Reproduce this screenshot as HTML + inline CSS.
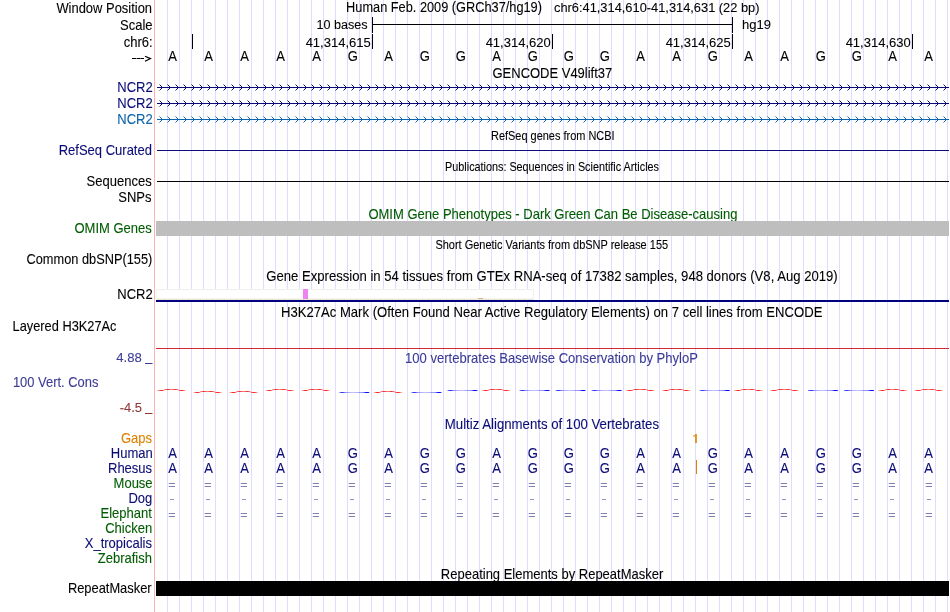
<!DOCTYPE html>
<html><head><meta charset="utf-8"><style>
html,body{margin:0;padding:0;background:#fff;width:950px;height:612px;overflow:hidden}
svg{display:block;will-change:transform}
text{font-family:"Liberation Sans",sans-serif;stroke-width:0.1}
</style></head><body>
<svg width="950" height="612" viewBox="0 0 950 612">
<rect x="167" y="0" width="1" height="612" fill="rgb(221,221,255)"/>
<rect x="179" y="0" width="1" height="612" fill="rgb(221,221,255)"/>
<rect x="191" y="0" width="1" height="612" fill="rgb(221,221,255)"/>
<rect x="203" y="0" width="1" height="612" fill="rgb(221,221,255)"/>
<rect x="215" y="0" width="1" height="612" fill="rgb(221,221,255)"/>
<rect x="227" y="0" width="1" height="612" fill="rgb(221,221,255)"/>
<rect x="239" y="0" width="1" height="612" fill="rgb(221,221,255)"/>
<rect x="251" y="0" width="1" height="612" fill="rgb(221,221,255)"/>
<rect x="263" y="0" width="1" height="612" fill="rgb(221,221,255)"/>
<rect x="275" y="0" width="1" height="612" fill="rgb(221,221,255)"/>
<rect x="287" y="0" width="1" height="612" fill="rgb(221,221,255)"/>
<rect x="299" y="0" width="1" height="612" fill="rgb(221,221,255)"/>
<rect x="311" y="0" width="1" height="612" fill="rgb(221,221,255)"/>
<rect x="323" y="0" width="1" height="612" fill="rgb(221,221,255)"/>
<rect x="335" y="0" width="1" height="612" fill="rgb(221,221,255)"/>
<rect x="347" y="0" width="1" height="612" fill="rgb(221,221,255)"/>
<rect x="359" y="0" width="1" height="612" fill="rgb(221,221,255)"/>
<rect x="371" y="0" width="1" height="612" fill="rgb(221,221,255)"/>
<rect x="383" y="0" width="1" height="612" fill="rgb(221,221,255)"/>
<rect x="395" y="0" width="1" height="612" fill="rgb(221,221,255)"/>
<rect x="407" y="0" width="1" height="612" fill="rgb(221,221,255)"/>
<rect x="419" y="0" width="1" height="612" fill="rgb(221,221,255)"/>
<rect x="431" y="0" width="1" height="612" fill="rgb(221,221,255)"/>
<rect x="443" y="0" width="1" height="612" fill="rgb(221,221,255)"/>
<rect x="455" y="0" width="1" height="612" fill="rgb(221,221,255)"/>
<rect x="467" y="0" width="1" height="612" fill="rgb(221,221,255)"/>
<rect x="479" y="0" width="1" height="612" fill="rgb(221,221,255)"/>
<rect x="491" y="0" width="1" height="612" fill="rgb(221,221,255)"/>
<rect x="503" y="0" width="1" height="612" fill="rgb(221,221,255)"/>
<rect x="515" y="0" width="1" height="612" fill="rgb(221,221,255)"/>
<rect x="527" y="0" width="1" height="612" fill="rgb(221,221,255)"/>
<rect x="539" y="0" width="1" height="612" fill="rgb(221,221,255)"/>
<rect x="551" y="0" width="1" height="612" fill="rgb(221,221,255)"/>
<rect x="563" y="0" width="1" height="612" fill="rgb(221,221,255)"/>
<rect x="575" y="0" width="1" height="612" fill="rgb(221,221,255)"/>
<rect x="587" y="0" width="1" height="612" fill="rgb(221,221,255)"/>
<rect x="599" y="0" width="1" height="612" fill="rgb(221,221,255)"/>
<rect x="611" y="0" width="1" height="612" fill="rgb(221,221,255)"/>
<rect x="623" y="0" width="1" height="612" fill="rgb(221,221,255)"/>
<rect x="635" y="0" width="1" height="612" fill="rgb(221,221,255)"/>
<rect x="647" y="0" width="1" height="612" fill="rgb(221,221,255)"/>
<rect x="659" y="0" width="1" height="612" fill="rgb(221,221,255)"/>
<rect x="671" y="0" width="1" height="612" fill="rgb(221,221,255)"/>
<rect x="683" y="0" width="1" height="612" fill="rgb(221,221,255)"/>
<rect x="695" y="0" width="1" height="612" fill="rgb(221,221,255)"/>
<rect x="707" y="0" width="1" height="612" fill="rgb(221,221,255)"/>
<rect x="719" y="0" width="1" height="612" fill="rgb(221,221,255)"/>
<rect x="731" y="0" width="1" height="612" fill="rgb(221,221,255)"/>
<rect x="743" y="0" width="1" height="612" fill="rgb(221,221,255)"/>
<rect x="755" y="0" width="1" height="612" fill="rgb(221,221,255)"/>
<rect x="767" y="0" width="1" height="612" fill="rgb(221,221,255)"/>
<rect x="779" y="0" width="1" height="612" fill="rgb(221,221,255)"/>
<rect x="791" y="0" width="1" height="612" fill="rgb(221,221,255)"/>
<rect x="803" y="0" width="1" height="612" fill="rgb(221,221,255)"/>
<rect x="815" y="0" width="1" height="612" fill="rgb(221,221,255)"/>
<rect x="827" y="0" width="1" height="612" fill="rgb(221,221,255)"/>
<rect x="839" y="0" width="1" height="612" fill="rgb(221,221,255)"/>
<rect x="851" y="0" width="1" height="612" fill="rgb(221,221,255)"/>
<rect x="863" y="0" width="1" height="612" fill="rgb(221,221,255)"/>
<rect x="875" y="0" width="1" height="612" fill="rgb(221,221,255)"/>
<rect x="887" y="0" width="1" height="612" fill="rgb(221,221,255)"/>
<rect x="899" y="0" width="1" height="612" fill="rgb(221,221,255)"/>
<rect x="911" y="0" width="1" height="612" fill="rgb(221,221,255)"/>
<rect x="923" y="0" width="1" height="612" fill="rgb(221,221,255)"/>
<rect x="935" y="0" width="1" height="612" fill="rgb(221,221,255)"/>
<rect x="947" y="0" width="1" height="612" fill="rgb(221,221,255)"/>
<rect x="154" y="0" width="1" height="612" fill="rgb(255,178,178)"/>
<text transform="translate(56.40,13) scale(0.9252,1)" fill="#000" stroke="#000" font-size="14">Window Position</text>
<text transform="translate(120.08,30) scale(0.9300,1)" fill="#000" stroke="#000" font-size="14">Scale</text>
<text transform="translate(123.80,47) scale(0.9300,1)" fill="#000" stroke="#000" font-size="14">chr6:</text>
<rect x="132" y="58" width="4" height="1" fill="#000"/>
<rect x="136.5" y="58" width="4" height="1" fill="#000"/>
<rect x="140.5" y="58" width="3.5" height="1" fill="#000"/>
<path d="M145,56.2L150.5,58.6L145,61.3" stroke="#000" stroke-width="1.15" fill="none"/>
<text transform="translate(117.29,92) scale(0.9300,1)" fill="rgb(12,12,120)" stroke="rgb(12,12,120)" font-size="14">NCR2</text>
<text transform="translate(117.29,108) scale(0.9300,1)" fill="rgb(12,12,120)" stroke="rgb(12,12,120)" font-size="14">NCR2</text>
<text transform="translate(117.29,124) scale(0.9300,1)" fill="rgb(12,100,170)" stroke="rgb(12,100,170)" font-size="14">NCR2</text>
<text transform="translate(58.70,155) scale(0.9300,1)" fill="rgb(12,12,120)" stroke="rgb(12,12,120)" font-size="14">RefSeq Curated</text>
<text transform="translate(86.60,186) scale(0.9300,1)" fill="#000" stroke="#000" font-size="14">Sequences</text>
<text transform="translate(118.22,202) scale(0.9300,1)" fill="#000" stroke="#000" font-size="14">SNPs</text>
<text transform="translate(74.51,233) scale(0.9300,1)" fill="rgb(0,92,0)" stroke="rgb(0,92,0)" font-size="14">OMIM Genes</text>
<text transform="translate(26.50,264) scale(0.9139,1)" fill="#000" stroke="#000" font-size="14">Common dbSNP(155)</text>
<text transform="translate(117.29,299) scale(0.9300,1)" fill="#000" stroke="#000" font-size="14">NCR2</text>
<text transform="translate(12.58,331) scale(0.9150,1)" fill="#000" stroke="#000" font-size="14">Layered H3K27Ac</text>
<text transform="translate(116.30,362) scale(0.9385,0.92)" fill="rgb(60,60,150)" stroke="rgb(60,60,150)" font-size="14">4.88</text>
<rect x="145" y="363" width="7.5" height="1" fill="rgb(60,60,150)"/>
<text transform="translate(12.88,387) scale(0.9250,1)" fill="rgb(60,60,150)" stroke="rgb(60,60,150)" font-size="14">100 Vert. Cons</text>
<text transform="translate(119.70,412) scale(0.9217,0.92)" fill="rgb(145,55,55)" stroke="rgb(145,55,55)" font-size="14">-4.5</text>
<rect x="145" y="413" width="7.5" height="1" fill="rgb(145,55,55)"/>
<text transform="translate(121.01,443) scale(0.9300,1)" fill="rgb(225,128,0)" stroke="rgb(225,128,0)" font-size="14">Gaps</text>
<text transform="translate(110.78,458) scale(0.9300,1)" fill="rgb(12,12,120)" stroke="rgb(12,12,120)" font-size="14">Human</text>
<text transform="translate(107.99,473) scale(0.9300,1)" fill="rgb(12,12,120)" stroke="rgb(12,12,120)" font-size="14">Rhesus</text>
<text transform="translate(113.57,488) scale(0.9300,1)" fill="rgb(0,92,0)" stroke="rgb(0,92,0)" font-size="14">Mouse</text>
<text transform="translate(128.45,503) scale(0.9300,1)" fill="rgb(12,12,120)" stroke="rgb(12,12,120)" font-size="14">Dog</text>
<text transform="translate(100.55,518) scale(0.9300,1)" fill="rgb(0,92,0)" stroke="rgb(0,92,0)" font-size="14">Elephant</text>
<text transform="translate(105.20,533) scale(0.9300,1)" fill="rgb(0,92,0)" stroke="rgb(0,92,0)" font-size="14">Chicken</text>
<text transform="translate(84.74,548) scale(0.9300,1)" fill="rgb(12,12,120)" stroke="rgb(12,12,120)" font-size="14">X_tropicalis</text>
<text transform="translate(97.76,563) scale(0.9300,1)" fill="rgb(0,92,0)" stroke="rgb(0,92,0)" font-size="14">Zebrafish</text>
<text transform="translate(67.88,593) scale(0.9211,1)" fill="#000" stroke="#000" font-size="14">RepeatMasker</text>
<text transform="translate(346.09,12) scale(0.9127,1)" fill="#000" stroke="#000" font-size="14">Human Feb. 2009 (GRCh37/hg19)</text>
<text transform="translate(554.00,12) scale(0.9175,0.93)" fill="#000" stroke="#000" font-size="14">chr6:41,314,610-41,314,631 (22 bp)</text>
<text transform="translate(316.40,29) scale(0.9018,0.93)" fill="#000" stroke="#000" font-size="14">10 bases</text>
<text transform="translate(742.07,29) scale(0.9300,0.93)" fill="#000" stroke="#000" font-size="14">hg19</text>
<rect x="372" y="17" width="1" height="16" fill="#000"/>
<rect x="732" y="17" width="1" height="16" fill="#000"/>
<rect x="372" y="24" width="361" height="1" fill="#000"/>
<rect x="192" y="34" width="1" height="15" fill="#000"/>
<rect x="372" y="34" width="1" height="15" fill="#000"/>
<text transform="translate(305.63,47) scale(0.9300,0.92)" fill="#000" stroke="#000" font-size="14">41,314,615</text>
<rect x="552" y="34" width="1" height="15" fill="#000"/>
<text transform="translate(485.63,47) scale(0.9300,0.92)" fill="#000" stroke="#000" font-size="14">41,314,620</text>
<rect x="732" y="34" width="1" height="15" fill="#000"/>
<text transform="translate(665.63,47) scale(0.9300,0.92)" fill="#000" stroke="#000" font-size="14">41,314,625</text>
<rect x="912" y="34" width="1" height="15" fill="#000"/>
<text transform="translate(845.63,47) scale(0.9300,0.92)" fill="#000" stroke="#000" font-size="14">41,314,630</text>
<text transform="translate(168.31,61) scale(0.9300,1)" fill="#000" stroke="#000" font-size="14">A</text>
<text transform="translate(204.31,61) scale(0.9300,1)" fill="#000" stroke="#000" font-size="14">A</text>
<text transform="translate(240.31,61) scale(0.9300,1)" fill="#000" stroke="#000" font-size="14">A</text>
<text transform="translate(276.31,61) scale(0.9300,1)" fill="#000" stroke="#000" font-size="14">A</text>
<text transform="translate(312.31,61) scale(0.9300,1)" fill="#000" stroke="#000" font-size="14">A</text>
<text transform="translate(347.85,61) scale(0.9300,1)" fill="#000" stroke="#000" font-size="14">G</text>
<text transform="translate(384.31,61) scale(0.9300,1)" fill="#000" stroke="#000" font-size="14">A</text>
<text transform="translate(419.85,61) scale(0.9300,1)" fill="#000" stroke="#000" font-size="14">G</text>
<text transform="translate(455.85,61) scale(0.9300,1)" fill="#000" stroke="#000" font-size="14">G</text>
<text transform="translate(492.31,61) scale(0.9300,1)" fill="#000" stroke="#000" font-size="14">A</text>
<text transform="translate(527.85,61) scale(0.9300,1)" fill="#000" stroke="#000" font-size="14">G</text>
<text transform="translate(563.85,61) scale(0.9300,1)" fill="#000" stroke="#000" font-size="14">G</text>
<text transform="translate(599.85,61) scale(0.9300,1)" fill="#000" stroke="#000" font-size="14">G</text>
<text transform="translate(636.32,61) scale(0.9300,1)" fill="#000" stroke="#000" font-size="14">A</text>
<text transform="translate(672.32,61) scale(0.9300,1)" fill="#000" stroke="#000" font-size="14">A</text>
<text transform="translate(707.85,61) scale(0.9300,1)" fill="#000" stroke="#000" font-size="14">G</text>
<text transform="translate(744.32,61) scale(0.9300,1)" fill="#000" stroke="#000" font-size="14">A</text>
<text transform="translate(780.32,61) scale(0.9300,1)" fill="#000" stroke="#000" font-size="14">A</text>
<text transform="translate(815.85,61) scale(0.9300,1)" fill="#000" stroke="#000" font-size="14">G</text>
<text transform="translate(851.85,61) scale(0.9300,1)" fill="#000" stroke="#000" font-size="14">G</text>
<text transform="translate(888.32,61) scale(0.9300,1)" fill="#000" stroke="#000" font-size="14">A</text>
<text transform="translate(924.32,61) scale(0.9300,1)" fill="#000" stroke="#000" font-size="14">A</text>
<text transform="translate(492.50,78) scale(0.9273,1)" fill="#000" stroke="#000" font-size="14">GENCODE V49lift37</text>
<rect x="157" y="87" width="792" height="1" fill="rgb(12,12,120)"/>
<path d="M160,85h1v1h-1zM161,86h1v3h-1zM160,89h1v1h-1zM168,85h1v1h-1zM169,86h1v3h-1zM168,89h1v1h-1zM176,85h1v1h-1zM177,86h1v3h-1zM176,89h1v1h-1zM184,85h1v1h-1zM185,86h1v3h-1zM184,89h1v1h-1zM192,85h1v1h-1zM193,86h1v3h-1zM192,89h1v1h-1zM200,85h1v1h-1zM201,86h1v3h-1zM200,89h1v1h-1zM208,85h1v1h-1zM209,86h1v3h-1zM208,89h1v1h-1zM216,85h1v1h-1zM217,86h1v3h-1zM216,89h1v1h-1zM224,85h1v1h-1zM225,86h1v3h-1zM224,89h1v1h-1zM232,85h1v1h-1zM233,86h1v3h-1zM232,89h1v1h-1zM240,85h1v1h-1zM241,86h1v3h-1zM240,89h1v1h-1zM248,85h1v1h-1zM249,86h1v3h-1zM248,89h1v1h-1zM256,85h1v1h-1zM257,86h1v3h-1zM256,89h1v1h-1zM264,85h1v1h-1zM265,86h1v3h-1zM264,89h1v1h-1zM272,85h1v1h-1zM273,86h1v3h-1zM272,89h1v1h-1zM280,85h1v1h-1zM281,86h1v3h-1zM280,89h1v1h-1zM288,85h1v1h-1zM289,86h1v3h-1zM288,89h1v1h-1zM296,85h1v1h-1zM297,86h1v3h-1zM296,89h1v1h-1zM304,85h1v1h-1zM305,86h1v3h-1zM304,89h1v1h-1zM312,85h1v1h-1zM313,86h1v3h-1zM312,89h1v1h-1zM320,85h1v1h-1zM321,86h1v3h-1zM320,89h1v1h-1zM328,85h1v1h-1zM329,86h1v3h-1zM328,89h1v1h-1zM336,85h1v1h-1zM337,86h1v3h-1zM336,89h1v1h-1zM344,85h1v1h-1zM345,86h1v3h-1zM344,89h1v1h-1zM352,85h1v1h-1zM353,86h1v3h-1zM352,89h1v1h-1zM360,85h1v1h-1zM361,86h1v3h-1zM360,89h1v1h-1zM368,85h1v1h-1zM369,86h1v3h-1zM368,89h1v1h-1zM376,85h1v1h-1zM377,86h1v3h-1zM376,89h1v1h-1zM384,85h1v1h-1zM385,86h1v3h-1zM384,89h1v1h-1zM392,85h1v1h-1zM393,86h1v3h-1zM392,89h1v1h-1zM400,85h1v1h-1zM401,86h1v3h-1zM400,89h1v1h-1zM408,85h1v1h-1zM409,86h1v3h-1zM408,89h1v1h-1zM416,85h1v1h-1zM417,86h1v3h-1zM416,89h1v1h-1zM424,85h1v1h-1zM425,86h1v3h-1zM424,89h1v1h-1zM432,85h1v1h-1zM433,86h1v3h-1zM432,89h1v1h-1zM440,85h1v1h-1zM441,86h1v3h-1zM440,89h1v1h-1zM448,85h1v1h-1zM449,86h1v3h-1zM448,89h1v1h-1zM456,85h1v1h-1zM457,86h1v3h-1zM456,89h1v1h-1zM464,85h1v1h-1zM465,86h1v3h-1zM464,89h1v1h-1zM472,85h1v1h-1zM473,86h1v3h-1zM472,89h1v1h-1zM480,85h1v1h-1zM481,86h1v3h-1zM480,89h1v1h-1zM488,85h1v1h-1zM489,86h1v3h-1zM488,89h1v1h-1zM496,85h1v1h-1zM497,86h1v3h-1zM496,89h1v1h-1zM504,85h1v1h-1zM505,86h1v3h-1zM504,89h1v1h-1zM512,85h1v1h-1zM513,86h1v3h-1zM512,89h1v1h-1zM520,85h1v1h-1zM521,86h1v3h-1zM520,89h1v1h-1zM528,85h1v1h-1zM529,86h1v3h-1zM528,89h1v1h-1zM536,85h1v1h-1zM537,86h1v3h-1zM536,89h1v1h-1zM544,85h1v1h-1zM545,86h1v3h-1zM544,89h1v1h-1zM552,85h1v1h-1zM553,86h1v3h-1zM552,89h1v1h-1zM560,85h1v1h-1zM561,86h1v3h-1zM560,89h1v1h-1zM568,85h1v1h-1zM569,86h1v3h-1zM568,89h1v1h-1zM576,85h1v1h-1zM577,86h1v3h-1zM576,89h1v1h-1zM584,85h1v1h-1zM585,86h1v3h-1zM584,89h1v1h-1zM592,85h1v1h-1zM593,86h1v3h-1zM592,89h1v1h-1zM600,85h1v1h-1zM601,86h1v3h-1zM600,89h1v1h-1zM608,85h1v1h-1zM609,86h1v3h-1zM608,89h1v1h-1zM616,85h1v1h-1zM617,86h1v3h-1zM616,89h1v1h-1zM624,85h1v1h-1zM625,86h1v3h-1zM624,89h1v1h-1zM632,85h1v1h-1zM633,86h1v3h-1zM632,89h1v1h-1zM640,85h1v1h-1zM641,86h1v3h-1zM640,89h1v1h-1zM648,85h1v1h-1zM649,86h1v3h-1zM648,89h1v1h-1zM656,85h1v1h-1zM657,86h1v3h-1zM656,89h1v1h-1zM664,85h1v1h-1zM665,86h1v3h-1zM664,89h1v1h-1zM672,85h1v1h-1zM673,86h1v3h-1zM672,89h1v1h-1zM680,85h1v1h-1zM681,86h1v3h-1zM680,89h1v1h-1zM688,85h1v1h-1zM689,86h1v3h-1zM688,89h1v1h-1zM696,85h1v1h-1zM697,86h1v3h-1zM696,89h1v1h-1zM704,85h1v1h-1zM705,86h1v3h-1zM704,89h1v1h-1zM712,85h1v1h-1zM713,86h1v3h-1zM712,89h1v1h-1zM720,85h1v1h-1zM721,86h1v3h-1zM720,89h1v1h-1zM728,85h1v1h-1zM729,86h1v3h-1zM728,89h1v1h-1zM736,85h1v1h-1zM737,86h1v3h-1zM736,89h1v1h-1zM744,85h1v1h-1zM745,86h1v3h-1zM744,89h1v1h-1zM752,85h1v1h-1zM753,86h1v3h-1zM752,89h1v1h-1zM760,85h1v1h-1zM761,86h1v3h-1zM760,89h1v1h-1zM768,85h1v1h-1zM769,86h1v3h-1zM768,89h1v1h-1zM776,85h1v1h-1zM777,86h1v3h-1zM776,89h1v1h-1zM784,85h1v1h-1zM785,86h1v3h-1zM784,89h1v1h-1zM792,85h1v1h-1zM793,86h1v3h-1zM792,89h1v1h-1zM800,85h1v1h-1zM801,86h1v3h-1zM800,89h1v1h-1zM808,85h1v1h-1zM809,86h1v3h-1zM808,89h1v1h-1zM816,85h1v1h-1zM817,86h1v3h-1zM816,89h1v1h-1zM824,85h1v1h-1zM825,86h1v3h-1zM824,89h1v1h-1zM832,85h1v1h-1zM833,86h1v3h-1zM832,89h1v1h-1zM840,85h1v1h-1zM841,86h1v3h-1zM840,89h1v1h-1zM848,85h1v1h-1zM849,86h1v3h-1zM848,89h1v1h-1zM856,85h1v1h-1zM857,86h1v3h-1zM856,89h1v1h-1zM864,85h1v1h-1zM865,86h1v3h-1zM864,89h1v1h-1zM872,85h1v1h-1zM873,86h1v3h-1zM872,89h1v1h-1zM880,85h1v1h-1zM881,86h1v3h-1zM880,89h1v1h-1zM888,85h1v1h-1zM889,86h1v3h-1zM888,89h1v1h-1zM896,85h1v1h-1zM897,86h1v3h-1zM896,89h1v1h-1zM904,85h1v1h-1zM905,86h1v3h-1zM904,89h1v1h-1zM912,85h1v1h-1zM913,86h1v3h-1zM912,89h1v1h-1zM920,85h1v1h-1zM921,86h1v3h-1zM920,89h1v1h-1zM928,85h1v1h-1zM929,86h1v3h-1zM928,89h1v1h-1zM936,85h1v1h-1zM937,86h1v3h-1zM936,89h1v1h-1zM944,85h1v1h-1zM945,86h1v3h-1zM944,89h1v1h-1z" fill="rgb(12,12,120)"/>
<path d="M159,84h1v1h-1zM159,90h1v1h-1zM167,84h1v1h-1zM167,90h1v1h-1zM175,84h1v1h-1zM175,90h1v1h-1zM183,84h1v1h-1zM183,90h1v1h-1zM191,84h1v1h-1zM191,90h1v1h-1zM199,84h1v1h-1zM199,90h1v1h-1zM207,84h1v1h-1zM207,90h1v1h-1zM215,84h1v1h-1zM215,90h1v1h-1zM223,84h1v1h-1zM223,90h1v1h-1zM231,84h1v1h-1zM231,90h1v1h-1zM239,84h1v1h-1zM239,90h1v1h-1zM247,84h1v1h-1zM247,90h1v1h-1zM255,84h1v1h-1zM255,90h1v1h-1zM263,84h1v1h-1zM263,90h1v1h-1zM271,84h1v1h-1zM271,90h1v1h-1zM279,84h1v1h-1zM279,90h1v1h-1zM287,84h1v1h-1zM287,90h1v1h-1zM295,84h1v1h-1zM295,90h1v1h-1zM303,84h1v1h-1zM303,90h1v1h-1zM311,84h1v1h-1zM311,90h1v1h-1zM319,84h1v1h-1zM319,90h1v1h-1zM327,84h1v1h-1zM327,90h1v1h-1zM335,84h1v1h-1zM335,90h1v1h-1zM343,84h1v1h-1zM343,90h1v1h-1zM351,84h1v1h-1zM351,90h1v1h-1zM359,84h1v1h-1zM359,90h1v1h-1zM367,84h1v1h-1zM367,90h1v1h-1zM375,84h1v1h-1zM375,90h1v1h-1zM383,84h1v1h-1zM383,90h1v1h-1zM391,84h1v1h-1zM391,90h1v1h-1zM399,84h1v1h-1zM399,90h1v1h-1zM407,84h1v1h-1zM407,90h1v1h-1zM415,84h1v1h-1zM415,90h1v1h-1zM423,84h1v1h-1zM423,90h1v1h-1zM431,84h1v1h-1zM431,90h1v1h-1zM439,84h1v1h-1zM439,90h1v1h-1zM447,84h1v1h-1zM447,90h1v1h-1zM455,84h1v1h-1zM455,90h1v1h-1zM463,84h1v1h-1zM463,90h1v1h-1zM471,84h1v1h-1zM471,90h1v1h-1zM479,84h1v1h-1zM479,90h1v1h-1zM487,84h1v1h-1zM487,90h1v1h-1zM495,84h1v1h-1zM495,90h1v1h-1zM503,84h1v1h-1zM503,90h1v1h-1zM511,84h1v1h-1zM511,90h1v1h-1zM519,84h1v1h-1zM519,90h1v1h-1zM527,84h1v1h-1zM527,90h1v1h-1zM535,84h1v1h-1zM535,90h1v1h-1zM543,84h1v1h-1zM543,90h1v1h-1zM551,84h1v1h-1zM551,90h1v1h-1zM559,84h1v1h-1zM559,90h1v1h-1zM567,84h1v1h-1zM567,90h1v1h-1zM575,84h1v1h-1zM575,90h1v1h-1zM583,84h1v1h-1zM583,90h1v1h-1zM591,84h1v1h-1zM591,90h1v1h-1zM599,84h1v1h-1zM599,90h1v1h-1zM607,84h1v1h-1zM607,90h1v1h-1zM615,84h1v1h-1zM615,90h1v1h-1zM623,84h1v1h-1zM623,90h1v1h-1zM631,84h1v1h-1zM631,90h1v1h-1zM639,84h1v1h-1zM639,90h1v1h-1zM647,84h1v1h-1zM647,90h1v1h-1zM655,84h1v1h-1zM655,90h1v1h-1zM663,84h1v1h-1zM663,90h1v1h-1zM671,84h1v1h-1zM671,90h1v1h-1zM679,84h1v1h-1zM679,90h1v1h-1zM687,84h1v1h-1zM687,90h1v1h-1zM695,84h1v1h-1zM695,90h1v1h-1zM703,84h1v1h-1zM703,90h1v1h-1zM711,84h1v1h-1zM711,90h1v1h-1zM719,84h1v1h-1zM719,90h1v1h-1zM727,84h1v1h-1zM727,90h1v1h-1zM735,84h1v1h-1zM735,90h1v1h-1zM743,84h1v1h-1zM743,90h1v1h-1zM751,84h1v1h-1zM751,90h1v1h-1zM759,84h1v1h-1zM759,90h1v1h-1zM767,84h1v1h-1zM767,90h1v1h-1zM775,84h1v1h-1zM775,90h1v1h-1zM783,84h1v1h-1zM783,90h1v1h-1zM791,84h1v1h-1zM791,90h1v1h-1zM799,84h1v1h-1zM799,90h1v1h-1zM807,84h1v1h-1zM807,90h1v1h-1zM815,84h1v1h-1zM815,90h1v1h-1zM823,84h1v1h-1zM823,90h1v1h-1zM831,84h1v1h-1zM831,90h1v1h-1zM839,84h1v1h-1zM839,90h1v1h-1zM847,84h1v1h-1zM847,90h1v1h-1zM855,84h1v1h-1zM855,90h1v1h-1zM863,84h1v1h-1zM863,90h1v1h-1zM871,84h1v1h-1zM871,90h1v1h-1zM879,84h1v1h-1zM879,90h1v1h-1zM887,84h1v1h-1zM887,90h1v1h-1zM895,84h1v1h-1zM895,90h1v1h-1zM903,84h1v1h-1zM903,90h1v1h-1zM911,84h1v1h-1zM911,90h1v1h-1zM919,84h1v1h-1zM919,90h1v1h-1zM927,84h1v1h-1zM927,90h1v1h-1zM935,84h1v1h-1zM935,90h1v1h-1zM943,84h1v1h-1zM943,90h1v1h-1z" fill="rgb(12,12,120)" opacity="0.45"/>
<rect x="157" y="103" width="792" height="1" fill="rgb(12,12,120)"/>
<path d="M160,101h1v1h-1zM161,102h1v3h-1zM160,105h1v1h-1zM168,101h1v1h-1zM169,102h1v3h-1zM168,105h1v1h-1zM176,101h1v1h-1zM177,102h1v3h-1zM176,105h1v1h-1zM184,101h1v1h-1zM185,102h1v3h-1zM184,105h1v1h-1zM192,101h1v1h-1zM193,102h1v3h-1zM192,105h1v1h-1zM200,101h1v1h-1zM201,102h1v3h-1zM200,105h1v1h-1zM208,101h1v1h-1zM209,102h1v3h-1zM208,105h1v1h-1zM216,101h1v1h-1zM217,102h1v3h-1zM216,105h1v1h-1zM224,101h1v1h-1zM225,102h1v3h-1zM224,105h1v1h-1zM232,101h1v1h-1zM233,102h1v3h-1zM232,105h1v1h-1zM240,101h1v1h-1zM241,102h1v3h-1zM240,105h1v1h-1zM248,101h1v1h-1zM249,102h1v3h-1zM248,105h1v1h-1zM256,101h1v1h-1zM257,102h1v3h-1zM256,105h1v1h-1zM264,101h1v1h-1zM265,102h1v3h-1zM264,105h1v1h-1zM272,101h1v1h-1zM273,102h1v3h-1zM272,105h1v1h-1zM280,101h1v1h-1zM281,102h1v3h-1zM280,105h1v1h-1zM288,101h1v1h-1zM289,102h1v3h-1zM288,105h1v1h-1zM296,101h1v1h-1zM297,102h1v3h-1zM296,105h1v1h-1zM304,101h1v1h-1zM305,102h1v3h-1zM304,105h1v1h-1zM312,101h1v1h-1zM313,102h1v3h-1zM312,105h1v1h-1zM320,101h1v1h-1zM321,102h1v3h-1zM320,105h1v1h-1zM328,101h1v1h-1zM329,102h1v3h-1zM328,105h1v1h-1zM336,101h1v1h-1zM337,102h1v3h-1zM336,105h1v1h-1zM344,101h1v1h-1zM345,102h1v3h-1zM344,105h1v1h-1zM352,101h1v1h-1zM353,102h1v3h-1zM352,105h1v1h-1zM360,101h1v1h-1zM361,102h1v3h-1zM360,105h1v1h-1zM368,101h1v1h-1zM369,102h1v3h-1zM368,105h1v1h-1zM376,101h1v1h-1zM377,102h1v3h-1zM376,105h1v1h-1zM384,101h1v1h-1zM385,102h1v3h-1zM384,105h1v1h-1zM392,101h1v1h-1zM393,102h1v3h-1zM392,105h1v1h-1zM400,101h1v1h-1zM401,102h1v3h-1zM400,105h1v1h-1zM408,101h1v1h-1zM409,102h1v3h-1zM408,105h1v1h-1zM416,101h1v1h-1zM417,102h1v3h-1zM416,105h1v1h-1zM424,101h1v1h-1zM425,102h1v3h-1zM424,105h1v1h-1zM432,101h1v1h-1zM433,102h1v3h-1zM432,105h1v1h-1zM440,101h1v1h-1zM441,102h1v3h-1zM440,105h1v1h-1zM448,101h1v1h-1zM449,102h1v3h-1zM448,105h1v1h-1zM456,101h1v1h-1zM457,102h1v3h-1zM456,105h1v1h-1zM464,101h1v1h-1zM465,102h1v3h-1zM464,105h1v1h-1zM472,101h1v1h-1zM473,102h1v3h-1zM472,105h1v1h-1zM480,101h1v1h-1zM481,102h1v3h-1zM480,105h1v1h-1zM488,101h1v1h-1zM489,102h1v3h-1zM488,105h1v1h-1zM496,101h1v1h-1zM497,102h1v3h-1zM496,105h1v1h-1zM504,101h1v1h-1zM505,102h1v3h-1zM504,105h1v1h-1zM512,101h1v1h-1zM513,102h1v3h-1zM512,105h1v1h-1zM520,101h1v1h-1zM521,102h1v3h-1zM520,105h1v1h-1zM528,101h1v1h-1zM529,102h1v3h-1zM528,105h1v1h-1zM536,101h1v1h-1zM537,102h1v3h-1zM536,105h1v1h-1zM544,101h1v1h-1zM545,102h1v3h-1zM544,105h1v1h-1zM552,101h1v1h-1zM553,102h1v3h-1zM552,105h1v1h-1zM560,101h1v1h-1zM561,102h1v3h-1zM560,105h1v1h-1zM568,101h1v1h-1zM569,102h1v3h-1zM568,105h1v1h-1zM576,101h1v1h-1zM577,102h1v3h-1zM576,105h1v1h-1zM584,101h1v1h-1zM585,102h1v3h-1zM584,105h1v1h-1zM592,101h1v1h-1zM593,102h1v3h-1zM592,105h1v1h-1zM600,101h1v1h-1zM601,102h1v3h-1zM600,105h1v1h-1zM608,101h1v1h-1zM609,102h1v3h-1zM608,105h1v1h-1zM616,101h1v1h-1zM617,102h1v3h-1zM616,105h1v1h-1zM624,101h1v1h-1zM625,102h1v3h-1zM624,105h1v1h-1zM632,101h1v1h-1zM633,102h1v3h-1zM632,105h1v1h-1zM640,101h1v1h-1zM641,102h1v3h-1zM640,105h1v1h-1zM648,101h1v1h-1zM649,102h1v3h-1zM648,105h1v1h-1zM656,101h1v1h-1zM657,102h1v3h-1zM656,105h1v1h-1zM664,101h1v1h-1zM665,102h1v3h-1zM664,105h1v1h-1zM672,101h1v1h-1zM673,102h1v3h-1zM672,105h1v1h-1zM680,101h1v1h-1zM681,102h1v3h-1zM680,105h1v1h-1zM688,101h1v1h-1zM689,102h1v3h-1zM688,105h1v1h-1zM696,101h1v1h-1zM697,102h1v3h-1zM696,105h1v1h-1zM704,101h1v1h-1zM705,102h1v3h-1zM704,105h1v1h-1zM712,101h1v1h-1zM713,102h1v3h-1zM712,105h1v1h-1zM720,101h1v1h-1zM721,102h1v3h-1zM720,105h1v1h-1zM728,101h1v1h-1zM729,102h1v3h-1zM728,105h1v1h-1zM736,101h1v1h-1zM737,102h1v3h-1zM736,105h1v1h-1zM744,101h1v1h-1zM745,102h1v3h-1zM744,105h1v1h-1zM752,101h1v1h-1zM753,102h1v3h-1zM752,105h1v1h-1zM760,101h1v1h-1zM761,102h1v3h-1zM760,105h1v1h-1zM768,101h1v1h-1zM769,102h1v3h-1zM768,105h1v1h-1zM776,101h1v1h-1zM777,102h1v3h-1zM776,105h1v1h-1zM784,101h1v1h-1zM785,102h1v3h-1zM784,105h1v1h-1zM792,101h1v1h-1zM793,102h1v3h-1zM792,105h1v1h-1zM800,101h1v1h-1zM801,102h1v3h-1zM800,105h1v1h-1zM808,101h1v1h-1zM809,102h1v3h-1zM808,105h1v1h-1zM816,101h1v1h-1zM817,102h1v3h-1zM816,105h1v1h-1zM824,101h1v1h-1zM825,102h1v3h-1zM824,105h1v1h-1zM832,101h1v1h-1zM833,102h1v3h-1zM832,105h1v1h-1zM840,101h1v1h-1zM841,102h1v3h-1zM840,105h1v1h-1zM848,101h1v1h-1zM849,102h1v3h-1zM848,105h1v1h-1zM856,101h1v1h-1zM857,102h1v3h-1zM856,105h1v1h-1zM864,101h1v1h-1zM865,102h1v3h-1zM864,105h1v1h-1zM872,101h1v1h-1zM873,102h1v3h-1zM872,105h1v1h-1zM880,101h1v1h-1zM881,102h1v3h-1zM880,105h1v1h-1zM888,101h1v1h-1zM889,102h1v3h-1zM888,105h1v1h-1zM896,101h1v1h-1zM897,102h1v3h-1zM896,105h1v1h-1zM904,101h1v1h-1zM905,102h1v3h-1zM904,105h1v1h-1zM912,101h1v1h-1zM913,102h1v3h-1zM912,105h1v1h-1zM920,101h1v1h-1zM921,102h1v3h-1zM920,105h1v1h-1zM928,101h1v1h-1zM929,102h1v3h-1zM928,105h1v1h-1zM936,101h1v1h-1zM937,102h1v3h-1zM936,105h1v1h-1zM944,101h1v1h-1zM945,102h1v3h-1zM944,105h1v1h-1z" fill="rgb(12,12,120)"/>
<path d="M159,100h1v1h-1zM159,106h1v1h-1zM167,100h1v1h-1zM167,106h1v1h-1zM175,100h1v1h-1zM175,106h1v1h-1zM183,100h1v1h-1zM183,106h1v1h-1zM191,100h1v1h-1zM191,106h1v1h-1zM199,100h1v1h-1zM199,106h1v1h-1zM207,100h1v1h-1zM207,106h1v1h-1zM215,100h1v1h-1zM215,106h1v1h-1zM223,100h1v1h-1zM223,106h1v1h-1zM231,100h1v1h-1zM231,106h1v1h-1zM239,100h1v1h-1zM239,106h1v1h-1zM247,100h1v1h-1zM247,106h1v1h-1zM255,100h1v1h-1zM255,106h1v1h-1zM263,100h1v1h-1zM263,106h1v1h-1zM271,100h1v1h-1zM271,106h1v1h-1zM279,100h1v1h-1zM279,106h1v1h-1zM287,100h1v1h-1zM287,106h1v1h-1zM295,100h1v1h-1zM295,106h1v1h-1zM303,100h1v1h-1zM303,106h1v1h-1zM311,100h1v1h-1zM311,106h1v1h-1zM319,100h1v1h-1zM319,106h1v1h-1zM327,100h1v1h-1zM327,106h1v1h-1zM335,100h1v1h-1zM335,106h1v1h-1zM343,100h1v1h-1zM343,106h1v1h-1zM351,100h1v1h-1zM351,106h1v1h-1zM359,100h1v1h-1zM359,106h1v1h-1zM367,100h1v1h-1zM367,106h1v1h-1zM375,100h1v1h-1zM375,106h1v1h-1zM383,100h1v1h-1zM383,106h1v1h-1zM391,100h1v1h-1zM391,106h1v1h-1zM399,100h1v1h-1zM399,106h1v1h-1zM407,100h1v1h-1zM407,106h1v1h-1zM415,100h1v1h-1zM415,106h1v1h-1zM423,100h1v1h-1zM423,106h1v1h-1zM431,100h1v1h-1zM431,106h1v1h-1zM439,100h1v1h-1zM439,106h1v1h-1zM447,100h1v1h-1zM447,106h1v1h-1zM455,100h1v1h-1zM455,106h1v1h-1zM463,100h1v1h-1zM463,106h1v1h-1zM471,100h1v1h-1zM471,106h1v1h-1zM479,100h1v1h-1zM479,106h1v1h-1zM487,100h1v1h-1zM487,106h1v1h-1zM495,100h1v1h-1zM495,106h1v1h-1zM503,100h1v1h-1zM503,106h1v1h-1zM511,100h1v1h-1zM511,106h1v1h-1zM519,100h1v1h-1zM519,106h1v1h-1zM527,100h1v1h-1zM527,106h1v1h-1zM535,100h1v1h-1zM535,106h1v1h-1zM543,100h1v1h-1zM543,106h1v1h-1zM551,100h1v1h-1zM551,106h1v1h-1zM559,100h1v1h-1zM559,106h1v1h-1zM567,100h1v1h-1zM567,106h1v1h-1zM575,100h1v1h-1zM575,106h1v1h-1zM583,100h1v1h-1zM583,106h1v1h-1zM591,100h1v1h-1zM591,106h1v1h-1zM599,100h1v1h-1zM599,106h1v1h-1zM607,100h1v1h-1zM607,106h1v1h-1zM615,100h1v1h-1zM615,106h1v1h-1zM623,100h1v1h-1zM623,106h1v1h-1zM631,100h1v1h-1zM631,106h1v1h-1zM639,100h1v1h-1zM639,106h1v1h-1zM647,100h1v1h-1zM647,106h1v1h-1zM655,100h1v1h-1zM655,106h1v1h-1zM663,100h1v1h-1zM663,106h1v1h-1zM671,100h1v1h-1zM671,106h1v1h-1zM679,100h1v1h-1zM679,106h1v1h-1zM687,100h1v1h-1zM687,106h1v1h-1zM695,100h1v1h-1zM695,106h1v1h-1zM703,100h1v1h-1zM703,106h1v1h-1zM711,100h1v1h-1zM711,106h1v1h-1zM719,100h1v1h-1zM719,106h1v1h-1zM727,100h1v1h-1zM727,106h1v1h-1zM735,100h1v1h-1zM735,106h1v1h-1zM743,100h1v1h-1zM743,106h1v1h-1zM751,100h1v1h-1zM751,106h1v1h-1zM759,100h1v1h-1zM759,106h1v1h-1zM767,100h1v1h-1zM767,106h1v1h-1zM775,100h1v1h-1zM775,106h1v1h-1zM783,100h1v1h-1zM783,106h1v1h-1zM791,100h1v1h-1zM791,106h1v1h-1zM799,100h1v1h-1zM799,106h1v1h-1zM807,100h1v1h-1zM807,106h1v1h-1zM815,100h1v1h-1zM815,106h1v1h-1zM823,100h1v1h-1zM823,106h1v1h-1zM831,100h1v1h-1zM831,106h1v1h-1zM839,100h1v1h-1zM839,106h1v1h-1zM847,100h1v1h-1zM847,106h1v1h-1zM855,100h1v1h-1zM855,106h1v1h-1zM863,100h1v1h-1zM863,106h1v1h-1zM871,100h1v1h-1zM871,106h1v1h-1zM879,100h1v1h-1zM879,106h1v1h-1zM887,100h1v1h-1zM887,106h1v1h-1zM895,100h1v1h-1zM895,106h1v1h-1zM903,100h1v1h-1zM903,106h1v1h-1zM911,100h1v1h-1zM911,106h1v1h-1zM919,100h1v1h-1zM919,106h1v1h-1zM927,100h1v1h-1zM927,106h1v1h-1zM935,100h1v1h-1zM935,106h1v1h-1zM943,100h1v1h-1zM943,106h1v1h-1z" fill="rgb(12,12,120)" opacity="0.45"/>
<rect x="157" y="119" width="792" height="1" fill="rgb(12,100,170)"/>
<path d="M160,117h1v1h-1zM161,118h1v3h-1zM160,121h1v1h-1zM168,117h1v1h-1zM169,118h1v3h-1zM168,121h1v1h-1zM176,117h1v1h-1zM177,118h1v3h-1zM176,121h1v1h-1zM184,117h1v1h-1zM185,118h1v3h-1zM184,121h1v1h-1zM192,117h1v1h-1zM193,118h1v3h-1zM192,121h1v1h-1zM200,117h1v1h-1zM201,118h1v3h-1zM200,121h1v1h-1zM208,117h1v1h-1zM209,118h1v3h-1zM208,121h1v1h-1zM216,117h1v1h-1zM217,118h1v3h-1zM216,121h1v1h-1zM224,117h1v1h-1zM225,118h1v3h-1zM224,121h1v1h-1zM232,117h1v1h-1zM233,118h1v3h-1zM232,121h1v1h-1zM240,117h1v1h-1zM241,118h1v3h-1zM240,121h1v1h-1zM248,117h1v1h-1zM249,118h1v3h-1zM248,121h1v1h-1zM256,117h1v1h-1zM257,118h1v3h-1zM256,121h1v1h-1zM264,117h1v1h-1zM265,118h1v3h-1zM264,121h1v1h-1zM272,117h1v1h-1zM273,118h1v3h-1zM272,121h1v1h-1zM280,117h1v1h-1zM281,118h1v3h-1zM280,121h1v1h-1zM288,117h1v1h-1zM289,118h1v3h-1zM288,121h1v1h-1zM296,117h1v1h-1zM297,118h1v3h-1zM296,121h1v1h-1zM304,117h1v1h-1zM305,118h1v3h-1zM304,121h1v1h-1zM312,117h1v1h-1zM313,118h1v3h-1zM312,121h1v1h-1zM320,117h1v1h-1zM321,118h1v3h-1zM320,121h1v1h-1zM328,117h1v1h-1zM329,118h1v3h-1zM328,121h1v1h-1zM336,117h1v1h-1zM337,118h1v3h-1zM336,121h1v1h-1zM344,117h1v1h-1zM345,118h1v3h-1zM344,121h1v1h-1zM352,117h1v1h-1zM353,118h1v3h-1zM352,121h1v1h-1zM360,117h1v1h-1zM361,118h1v3h-1zM360,121h1v1h-1zM368,117h1v1h-1zM369,118h1v3h-1zM368,121h1v1h-1zM376,117h1v1h-1zM377,118h1v3h-1zM376,121h1v1h-1zM384,117h1v1h-1zM385,118h1v3h-1zM384,121h1v1h-1zM392,117h1v1h-1zM393,118h1v3h-1zM392,121h1v1h-1zM400,117h1v1h-1zM401,118h1v3h-1zM400,121h1v1h-1zM408,117h1v1h-1zM409,118h1v3h-1zM408,121h1v1h-1zM416,117h1v1h-1zM417,118h1v3h-1zM416,121h1v1h-1zM424,117h1v1h-1zM425,118h1v3h-1zM424,121h1v1h-1zM432,117h1v1h-1zM433,118h1v3h-1zM432,121h1v1h-1zM440,117h1v1h-1zM441,118h1v3h-1zM440,121h1v1h-1zM448,117h1v1h-1zM449,118h1v3h-1zM448,121h1v1h-1zM456,117h1v1h-1zM457,118h1v3h-1zM456,121h1v1h-1zM464,117h1v1h-1zM465,118h1v3h-1zM464,121h1v1h-1zM472,117h1v1h-1zM473,118h1v3h-1zM472,121h1v1h-1zM480,117h1v1h-1zM481,118h1v3h-1zM480,121h1v1h-1zM488,117h1v1h-1zM489,118h1v3h-1zM488,121h1v1h-1zM496,117h1v1h-1zM497,118h1v3h-1zM496,121h1v1h-1zM504,117h1v1h-1zM505,118h1v3h-1zM504,121h1v1h-1zM512,117h1v1h-1zM513,118h1v3h-1zM512,121h1v1h-1zM520,117h1v1h-1zM521,118h1v3h-1zM520,121h1v1h-1zM528,117h1v1h-1zM529,118h1v3h-1zM528,121h1v1h-1zM536,117h1v1h-1zM537,118h1v3h-1zM536,121h1v1h-1zM544,117h1v1h-1zM545,118h1v3h-1zM544,121h1v1h-1zM552,117h1v1h-1zM553,118h1v3h-1zM552,121h1v1h-1zM560,117h1v1h-1zM561,118h1v3h-1zM560,121h1v1h-1zM568,117h1v1h-1zM569,118h1v3h-1zM568,121h1v1h-1zM576,117h1v1h-1zM577,118h1v3h-1zM576,121h1v1h-1zM584,117h1v1h-1zM585,118h1v3h-1zM584,121h1v1h-1zM592,117h1v1h-1zM593,118h1v3h-1zM592,121h1v1h-1zM600,117h1v1h-1zM601,118h1v3h-1zM600,121h1v1h-1zM608,117h1v1h-1zM609,118h1v3h-1zM608,121h1v1h-1zM616,117h1v1h-1zM617,118h1v3h-1zM616,121h1v1h-1zM624,117h1v1h-1zM625,118h1v3h-1zM624,121h1v1h-1zM632,117h1v1h-1zM633,118h1v3h-1zM632,121h1v1h-1zM640,117h1v1h-1zM641,118h1v3h-1zM640,121h1v1h-1zM648,117h1v1h-1zM649,118h1v3h-1zM648,121h1v1h-1zM656,117h1v1h-1zM657,118h1v3h-1zM656,121h1v1h-1zM664,117h1v1h-1zM665,118h1v3h-1zM664,121h1v1h-1zM672,117h1v1h-1zM673,118h1v3h-1zM672,121h1v1h-1zM680,117h1v1h-1zM681,118h1v3h-1zM680,121h1v1h-1zM688,117h1v1h-1zM689,118h1v3h-1zM688,121h1v1h-1zM696,117h1v1h-1zM697,118h1v3h-1zM696,121h1v1h-1zM704,117h1v1h-1zM705,118h1v3h-1zM704,121h1v1h-1zM712,117h1v1h-1zM713,118h1v3h-1zM712,121h1v1h-1zM720,117h1v1h-1zM721,118h1v3h-1zM720,121h1v1h-1zM728,117h1v1h-1zM729,118h1v3h-1zM728,121h1v1h-1zM736,117h1v1h-1zM737,118h1v3h-1zM736,121h1v1h-1zM744,117h1v1h-1zM745,118h1v3h-1zM744,121h1v1h-1zM752,117h1v1h-1zM753,118h1v3h-1zM752,121h1v1h-1zM760,117h1v1h-1zM761,118h1v3h-1zM760,121h1v1h-1zM768,117h1v1h-1zM769,118h1v3h-1zM768,121h1v1h-1zM776,117h1v1h-1zM777,118h1v3h-1zM776,121h1v1h-1zM784,117h1v1h-1zM785,118h1v3h-1zM784,121h1v1h-1zM792,117h1v1h-1zM793,118h1v3h-1zM792,121h1v1h-1zM800,117h1v1h-1zM801,118h1v3h-1zM800,121h1v1h-1zM808,117h1v1h-1zM809,118h1v3h-1zM808,121h1v1h-1zM816,117h1v1h-1zM817,118h1v3h-1zM816,121h1v1h-1zM824,117h1v1h-1zM825,118h1v3h-1zM824,121h1v1h-1zM832,117h1v1h-1zM833,118h1v3h-1zM832,121h1v1h-1zM840,117h1v1h-1zM841,118h1v3h-1zM840,121h1v1h-1zM848,117h1v1h-1zM849,118h1v3h-1zM848,121h1v1h-1zM856,117h1v1h-1zM857,118h1v3h-1zM856,121h1v1h-1zM864,117h1v1h-1zM865,118h1v3h-1zM864,121h1v1h-1zM872,117h1v1h-1zM873,118h1v3h-1zM872,121h1v1h-1zM880,117h1v1h-1zM881,118h1v3h-1zM880,121h1v1h-1zM888,117h1v1h-1zM889,118h1v3h-1zM888,121h1v1h-1zM896,117h1v1h-1zM897,118h1v3h-1zM896,121h1v1h-1zM904,117h1v1h-1zM905,118h1v3h-1zM904,121h1v1h-1zM912,117h1v1h-1zM913,118h1v3h-1zM912,121h1v1h-1zM920,117h1v1h-1zM921,118h1v3h-1zM920,121h1v1h-1zM928,117h1v1h-1zM929,118h1v3h-1zM928,121h1v1h-1zM936,117h1v1h-1zM937,118h1v3h-1zM936,121h1v1h-1zM944,117h1v1h-1zM945,118h1v3h-1zM944,121h1v1h-1z" fill="rgb(12,100,170)"/>
<path d="M159,116h1v1h-1zM159,122h1v1h-1zM167,116h1v1h-1zM167,122h1v1h-1zM175,116h1v1h-1zM175,122h1v1h-1zM183,116h1v1h-1zM183,122h1v1h-1zM191,116h1v1h-1zM191,122h1v1h-1zM199,116h1v1h-1zM199,122h1v1h-1zM207,116h1v1h-1zM207,122h1v1h-1zM215,116h1v1h-1zM215,122h1v1h-1zM223,116h1v1h-1zM223,122h1v1h-1zM231,116h1v1h-1zM231,122h1v1h-1zM239,116h1v1h-1zM239,122h1v1h-1zM247,116h1v1h-1zM247,122h1v1h-1zM255,116h1v1h-1zM255,122h1v1h-1zM263,116h1v1h-1zM263,122h1v1h-1zM271,116h1v1h-1zM271,122h1v1h-1zM279,116h1v1h-1zM279,122h1v1h-1zM287,116h1v1h-1zM287,122h1v1h-1zM295,116h1v1h-1zM295,122h1v1h-1zM303,116h1v1h-1zM303,122h1v1h-1zM311,116h1v1h-1zM311,122h1v1h-1zM319,116h1v1h-1zM319,122h1v1h-1zM327,116h1v1h-1zM327,122h1v1h-1zM335,116h1v1h-1zM335,122h1v1h-1zM343,116h1v1h-1zM343,122h1v1h-1zM351,116h1v1h-1zM351,122h1v1h-1zM359,116h1v1h-1zM359,122h1v1h-1zM367,116h1v1h-1zM367,122h1v1h-1zM375,116h1v1h-1zM375,122h1v1h-1zM383,116h1v1h-1zM383,122h1v1h-1zM391,116h1v1h-1zM391,122h1v1h-1zM399,116h1v1h-1zM399,122h1v1h-1zM407,116h1v1h-1zM407,122h1v1h-1zM415,116h1v1h-1zM415,122h1v1h-1zM423,116h1v1h-1zM423,122h1v1h-1zM431,116h1v1h-1zM431,122h1v1h-1zM439,116h1v1h-1zM439,122h1v1h-1zM447,116h1v1h-1zM447,122h1v1h-1zM455,116h1v1h-1zM455,122h1v1h-1zM463,116h1v1h-1zM463,122h1v1h-1zM471,116h1v1h-1zM471,122h1v1h-1zM479,116h1v1h-1zM479,122h1v1h-1zM487,116h1v1h-1zM487,122h1v1h-1zM495,116h1v1h-1zM495,122h1v1h-1zM503,116h1v1h-1zM503,122h1v1h-1zM511,116h1v1h-1zM511,122h1v1h-1zM519,116h1v1h-1zM519,122h1v1h-1zM527,116h1v1h-1zM527,122h1v1h-1zM535,116h1v1h-1zM535,122h1v1h-1zM543,116h1v1h-1zM543,122h1v1h-1zM551,116h1v1h-1zM551,122h1v1h-1zM559,116h1v1h-1zM559,122h1v1h-1zM567,116h1v1h-1zM567,122h1v1h-1zM575,116h1v1h-1zM575,122h1v1h-1zM583,116h1v1h-1zM583,122h1v1h-1zM591,116h1v1h-1zM591,122h1v1h-1zM599,116h1v1h-1zM599,122h1v1h-1zM607,116h1v1h-1zM607,122h1v1h-1zM615,116h1v1h-1zM615,122h1v1h-1zM623,116h1v1h-1zM623,122h1v1h-1zM631,116h1v1h-1zM631,122h1v1h-1zM639,116h1v1h-1zM639,122h1v1h-1zM647,116h1v1h-1zM647,122h1v1h-1zM655,116h1v1h-1zM655,122h1v1h-1zM663,116h1v1h-1zM663,122h1v1h-1zM671,116h1v1h-1zM671,122h1v1h-1zM679,116h1v1h-1zM679,122h1v1h-1zM687,116h1v1h-1zM687,122h1v1h-1zM695,116h1v1h-1zM695,122h1v1h-1zM703,116h1v1h-1zM703,122h1v1h-1zM711,116h1v1h-1zM711,122h1v1h-1zM719,116h1v1h-1zM719,122h1v1h-1zM727,116h1v1h-1zM727,122h1v1h-1zM735,116h1v1h-1zM735,122h1v1h-1zM743,116h1v1h-1zM743,122h1v1h-1zM751,116h1v1h-1zM751,122h1v1h-1zM759,116h1v1h-1zM759,122h1v1h-1zM767,116h1v1h-1zM767,122h1v1h-1zM775,116h1v1h-1zM775,122h1v1h-1zM783,116h1v1h-1zM783,122h1v1h-1zM791,116h1v1h-1zM791,122h1v1h-1zM799,116h1v1h-1zM799,122h1v1h-1zM807,116h1v1h-1zM807,122h1v1h-1zM815,116h1v1h-1zM815,122h1v1h-1zM823,116h1v1h-1zM823,122h1v1h-1zM831,116h1v1h-1zM831,122h1v1h-1zM839,116h1v1h-1zM839,122h1v1h-1zM847,116h1v1h-1zM847,122h1v1h-1zM855,116h1v1h-1zM855,122h1v1h-1zM863,116h1v1h-1zM863,122h1v1h-1zM871,116h1v1h-1zM871,122h1v1h-1zM879,116h1v1h-1zM879,122h1v1h-1zM887,116h1v1h-1zM887,122h1v1h-1zM895,116h1v1h-1zM895,122h1v1h-1zM903,116h1v1h-1zM903,122h1v1h-1zM911,116h1v1h-1zM911,122h1v1h-1zM919,116h1v1h-1zM919,122h1v1h-1zM927,116h1v1h-1zM927,122h1v1h-1zM935,116h1v1h-1zM935,122h1v1h-1zM943,116h1v1h-1zM943,122h1v1h-1z" fill="rgb(12,100,170)" opacity="0.45"/>
<text transform="translate(490.99,140) scale(0.9143,1)" fill="#000" stroke="#000" font-size="12">RefSeq genes from NCBI</text>
<rect x="157" y="150" width="792" height="1" fill="rgb(12,12,120)"/>
<text transform="translate(445.10,171) scale(0.9025,1)" fill="#000" stroke="#000" font-size="12">Publications: Sequences in Scientific Articles</text>
<rect x="157" y="181" width="792" height="1" fill="#000"/>
<text transform="translate(368.40,219) scale(0.9303,1)" fill="rgb(0,92,0)" stroke="rgb(0,92,0)" font-size="14">OMIM Gene Phenotypes - Dark Green Can Be Disease-causing</text>
<rect x="156" y="221" width="793" height="15" fill="rgb(190,190,190)"/>
<text transform="translate(435.38,249) scale(0.9150,1)" fill="#000" stroke="#000" font-size="12">Short Genetic Variants from dbSNP release 155</text>
<text transform="translate(266.30,281) scale(0.9362,1)" fill="#000" stroke="#000" font-size="14">Gene Expression in 54 tissues from GTEx RNA-seq of 17382 samples, 948 donors (V8, Aug 2019)</text>
<rect x="156" y="289" width="378" height="11" fill="#fff"/>
<rect x="156" y="289" width="378" height="1" fill="rgb(240,240,236)"/>
<rect x="156" y="299" width="378" height="1" fill="rgb(232,228,214)"/>
<rect x="156" y="289" width="1" height="11" fill="rgb(244,244,240)"/>
<rect x="533" y="289" width="1" height="11" fill="rgb(240,240,236)"/>
<rect x="156" y="298" width="378" height="1" fill="rgb(246,245,238)"/>
<rect x="303" y="289" width="5" height="10" fill="rgb(238,130,238)"/>
<rect x="478" y="298" width="5" height="1" fill="rgb(220,180,140)"/>
<rect x="156" y="300" width="793" height="2" fill="rgb(0,0,128)"/>
<text transform="translate(280.96,317) scale(0.9362,1)" fill="#000" stroke="#000" font-size="14">H3K27Ac Mark (Often Found Near Active Regulatory Elements) on 7 cell lines from ENCODE</text>
<rect x="156" y="348" width="793" height="1" fill="rgb(210,40,60)"/>
<text transform="translate(405.07,363) scale(0.9326,1)" fill="rgb(60,60,150)" stroke="rgb(60,60,150)" font-size="14">100 vertebrates Basewise Conservation by PhyloP</text>
<defs><linearGradient id="gR1"><stop offset="0" stop-color="#f00" stop-opacity="0.15"/><stop offset="0.55" stop-color="#f00" stop-opacity="0.95"/><stop offset="1" stop-color="#f00" stop-opacity="0.35"/></linearGradient><linearGradient id="gRm"><stop offset="0" stop-color="#f00" stop-opacity="0.35"/><stop offset="0.25" stop-color="#f00" stop-opacity="0.85"/><stop offset="0.5" stop-color="#f00" stop-opacity="0.45"/><stop offset="0.75" stop-color="#f00" stop-opacity="0.85"/><stop offset="1" stop-color="#f00" stop-opacity="0.35"/></linearGradient><linearGradient id="gR2"><stop offset="0" stop-color="#f00" stop-opacity="0.35"/><stop offset="0.45" stop-color="#f00" stop-opacity="0.95"/><stop offset="1" stop-color="#f00" stop-opacity="0.15"/></linearGradient><linearGradient id="gB"><stop offset="0" stop-color="#00f" stop-opacity="0.45"/><stop offset="0.1" stop-color="#00f" stop-opacity="0.85"/><stop offset="0.22" stop-color="#00f" stop-opacity="0.4"/><stop offset="0.45" stop-color="#00f" stop-opacity="0.22"/><stop offset="0.65" stop-color="#00f" stop-opacity="0.35"/><stop offset="0.8" stop-color="#00f" stop-opacity="0.45"/><stop offset="0.9" stop-color="#00f" stop-opacity="1"/><stop offset="1" stop-color="#00f" stop-opacity="0.85"/></linearGradient></defs>
<rect x="157.20" y="390" width="7.3" height="1" fill="url(#gR1)"/>
<rect x="164.00" y="389" width="14.8" height="1" fill="url(#gRm)"/>
<rect x="178.30" y="390" width="7.7" height="1" fill="url(#gR2)"/>
<rect x="193.25" y="392" width="7.3" height="1" fill="url(#gR1)"/>
<rect x="200.05" y="391" width="14.8" height="1" fill="url(#gRm)"/>
<rect x="214.35" y="392" width="7.7" height="1" fill="url(#gR2)"/>
<rect x="229.30" y="392" width="7.3" height="1" fill="url(#gR1)"/>
<rect x="236.10" y="391" width="14.8" height="1" fill="url(#gRm)"/>
<rect x="250.40" y="392" width="7.7" height="1" fill="url(#gR2)"/>
<rect x="265.35" y="390" width="7.3" height="1" fill="url(#gR1)"/>
<rect x="272.15" y="389" width="14.8" height="1" fill="url(#gRm)"/>
<rect x="286.45" y="390" width="7.7" height="1" fill="url(#gR2)"/>
<rect x="301.40" y="390" width="7.3" height="1" fill="url(#gR1)"/>
<rect x="308.20" y="389" width="14.8" height="1" fill="url(#gRm)"/>
<rect x="322.50" y="390" width="7.7" height="1" fill="url(#gR2)"/>
<rect x="339.25" y="392" width="30" height="1" fill="url(#gB)"/>
<rect x="373.50" y="392" width="7.3" height="1" fill="url(#gR1)"/>
<rect x="380.30" y="391" width="14.8" height="1" fill="url(#gRm)"/>
<rect x="394.60" y="392" width="7.7" height="1" fill="url(#gR2)"/>
<rect x="411.35" y="392" width="30" height="1" fill="url(#gB)"/>
<rect x="447.40" y="390" width="30" height="1" fill="url(#gB)"/>
<rect x="481.65" y="390" width="7.3" height="1" fill="url(#gR1)"/>
<rect x="488.45" y="389" width="14.8" height="1" fill="url(#gRm)"/>
<rect x="502.75" y="390" width="7.7" height="1" fill="url(#gR2)"/>
<rect x="519.50" y="390" width="30" height="1" fill="url(#gB)"/>
<rect x="555.55" y="390" width="30" height="1" fill="url(#gB)"/>
<rect x="591.60" y="390" width="30" height="1" fill="url(#gB)"/>
<rect x="625.85" y="390" width="7.3" height="1" fill="url(#gR1)"/>
<rect x="632.65" y="389" width="14.8" height="1" fill="url(#gRm)"/>
<rect x="646.95" y="390" width="7.7" height="1" fill="url(#gR2)"/>
<rect x="661.90" y="390" width="7.3" height="1" fill="url(#gR1)"/>
<rect x="668.70" y="389" width="14.8" height="1" fill="url(#gRm)"/>
<rect x="683.00" y="390" width="7.7" height="1" fill="url(#gR2)"/>
<rect x="699.75" y="390" width="30" height="1" fill="url(#gB)"/>
<rect x="734.00" y="390" width="7.3" height="1" fill="url(#gR1)"/>
<rect x="740.80" y="389" width="14.8" height="1" fill="url(#gRm)"/>
<rect x="755.10" y="390" width="7.7" height="1" fill="url(#gR2)"/>
<rect x="770.05" y="390" width="7.3" height="1" fill="url(#gR1)"/>
<rect x="776.85" y="389" width="14.8" height="1" fill="url(#gRm)"/>
<rect x="791.15" y="390" width="7.7" height="1" fill="url(#gR2)"/>
<rect x="807.90" y="390" width="30" height="1" fill="url(#gB)"/>
<rect x="843.95" y="390" width="30" height="1" fill="url(#gB)"/>
<rect x="878.20" y="390" width="7.3" height="1" fill="url(#gR1)"/>
<rect x="885.00" y="389" width="14.8" height="1" fill="url(#gRm)"/>
<rect x="899.30" y="390" width="7.7" height="1" fill="url(#gR2)"/>
<rect x="914.25" y="390" width="7.3" height="1" fill="url(#gR1)"/>
<rect x="921.05" y="389" width="14.8" height="1" fill="url(#gRm)"/>
<rect x="935.35" y="390" width="7.7" height="1" fill="url(#gR2)"/>
<text transform="translate(444.86,429) scale(0.9434,1)" fill="rgb(12,12,120)" stroke="rgb(12,12,120)" font-size="14">Multiz Alignments of 100 Vertebrates</text>
<rect x="695" y="434" width="2" height="9" fill="rgb(225,128,0)" opacity="0.8"/>
<rect x="693" y="435" width="2" height="2" fill="rgb(225,128,0)" opacity="0.45"/>
<rect x="694" y="435" width="1" height="1" fill="rgb(225,128,0)" opacity="0.6"/>
<text transform="translate(168.31,458) scale(0.9300,1)" fill="rgb(12,12,120)" stroke="rgb(12,12,120)" font-size="14">A</text>
<text transform="translate(168.31,473) scale(0.9300,1)" fill="rgb(12,12,120)" stroke="rgb(12,12,120)" font-size="14">A</text>
<rect x="169" y="483" width="6" height="1" fill="rgb(128,128,180)"/>
<rect x="168" y="483" width="1" height="1" fill="rgb(128,128,180)" opacity="0.3"/>
<rect x="169" y="486" width="6" height="1" fill="rgb(128,128,180)"/>
<rect x="168" y="486" width="1" height="1" fill="rgb(128,128,180)" opacity="0.3"/>
<rect x="169" y="513" width="6" height="1" fill="rgb(128,128,180)"/>
<rect x="168" y="513" width="1" height="1" fill="rgb(128,128,180)" opacity="0.3"/>
<rect x="169" y="516" width="6" height="1" fill="rgb(128,128,180)"/>
<rect x="168" y="516" width="1" height="1" fill="rgb(128,128,180)" opacity="0.3"/>
<rect x="170" y="499" width="4" height="1" fill="rgb(128,128,180)" opacity="0.85"/>
<text transform="translate(204.31,458) scale(0.9300,1)" fill="rgb(12,12,120)" stroke="rgb(12,12,120)" font-size="14">A</text>
<text transform="translate(204.31,473) scale(0.9300,1)" fill="rgb(12,12,120)" stroke="rgb(12,12,120)" font-size="14">A</text>
<rect x="205" y="483" width="6" height="1" fill="rgb(128,128,180)"/>
<rect x="204" y="483" width="1" height="1" fill="rgb(128,128,180)" opacity="0.3"/>
<rect x="205" y="486" width="6" height="1" fill="rgb(128,128,180)"/>
<rect x="204" y="486" width="1" height="1" fill="rgb(128,128,180)" opacity="0.3"/>
<rect x="205" y="513" width="6" height="1" fill="rgb(128,128,180)"/>
<rect x="204" y="513" width="1" height="1" fill="rgb(128,128,180)" opacity="0.3"/>
<rect x="205" y="516" width="6" height="1" fill="rgb(128,128,180)"/>
<rect x="204" y="516" width="1" height="1" fill="rgb(128,128,180)" opacity="0.3"/>
<rect x="206" y="499" width="4" height="1" fill="rgb(128,128,180)" opacity="0.85"/>
<text transform="translate(240.31,458) scale(0.9300,1)" fill="rgb(12,12,120)" stroke="rgb(12,12,120)" font-size="14">A</text>
<text transform="translate(240.31,473) scale(0.9300,1)" fill="rgb(12,12,120)" stroke="rgb(12,12,120)" font-size="14">A</text>
<rect x="241" y="483" width="6" height="1" fill="rgb(128,128,180)"/>
<rect x="240" y="483" width="1" height="1" fill="rgb(128,128,180)" opacity="0.3"/>
<rect x="241" y="486" width="6" height="1" fill="rgb(128,128,180)"/>
<rect x="240" y="486" width="1" height="1" fill="rgb(128,128,180)" opacity="0.3"/>
<rect x="241" y="513" width="6" height="1" fill="rgb(128,128,180)"/>
<rect x="240" y="513" width="1" height="1" fill="rgb(128,128,180)" opacity="0.3"/>
<rect x="241" y="516" width="6" height="1" fill="rgb(128,128,180)"/>
<rect x="240" y="516" width="1" height="1" fill="rgb(128,128,180)" opacity="0.3"/>
<rect x="242" y="499" width="4" height="1" fill="rgb(128,128,180)" opacity="0.85"/>
<text transform="translate(276.31,458) scale(0.9300,1)" fill="rgb(12,12,120)" stroke="rgb(12,12,120)" font-size="14">A</text>
<text transform="translate(276.31,473) scale(0.9300,1)" fill="rgb(12,12,120)" stroke="rgb(12,12,120)" font-size="14">A</text>
<rect x="277" y="483" width="6" height="1" fill="rgb(128,128,180)"/>
<rect x="276" y="483" width="1" height="1" fill="rgb(128,128,180)" opacity="0.3"/>
<rect x="277" y="486" width="6" height="1" fill="rgb(128,128,180)"/>
<rect x="276" y="486" width="1" height="1" fill="rgb(128,128,180)" opacity="0.3"/>
<rect x="277" y="513" width="6" height="1" fill="rgb(128,128,180)"/>
<rect x="276" y="513" width="1" height="1" fill="rgb(128,128,180)" opacity="0.3"/>
<rect x="277" y="516" width="6" height="1" fill="rgb(128,128,180)"/>
<rect x="276" y="516" width="1" height="1" fill="rgb(128,128,180)" opacity="0.3"/>
<rect x="278" y="499" width="4" height="1" fill="rgb(128,128,180)" opacity="0.85"/>
<text transform="translate(312.31,458) scale(0.9300,1)" fill="rgb(12,12,120)" stroke="rgb(12,12,120)" font-size="14">A</text>
<text transform="translate(312.31,473) scale(0.9300,1)" fill="rgb(12,12,120)" stroke="rgb(12,12,120)" font-size="14">A</text>
<rect x="313" y="483" width="6" height="1" fill="rgb(128,128,180)"/>
<rect x="312" y="483" width="1" height="1" fill="rgb(128,128,180)" opacity="0.3"/>
<rect x="313" y="486" width="6" height="1" fill="rgb(128,128,180)"/>
<rect x="312" y="486" width="1" height="1" fill="rgb(128,128,180)" opacity="0.3"/>
<rect x="313" y="513" width="6" height="1" fill="rgb(128,128,180)"/>
<rect x="312" y="513" width="1" height="1" fill="rgb(128,128,180)" opacity="0.3"/>
<rect x="313" y="516" width="6" height="1" fill="rgb(128,128,180)"/>
<rect x="312" y="516" width="1" height="1" fill="rgb(128,128,180)" opacity="0.3"/>
<rect x="314" y="499" width="4" height="1" fill="rgb(128,128,180)" opacity="0.85"/>
<text transform="translate(347.85,458) scale(0.9300,1)" fill="rgb(12,12,120)" stroke="rgb(12,12,120)" font-size="14">G</text>
<text transform="translate(347.85,473) scale(0.9300,1)" fill="rgb(12,12,120)" stroke="rgb(12,12,120)" font-size="14">G</text>
<rect x="349" y="483" width="6" height="1" fill="rgb(128,128,180)"/>
<rect x="348" y="483" width="1" height="1" fill="rgb(128,128,180)" opacity="0.3"/>
<rect x="349" y="486" width="6" height="1" fill="rgb(128,128,180)"/>
<rect x="348" y="486" width="1" height="1" fill="rgb(128,128,180)" opacity="0.3"/>
<rect x="349" y="513" width="6" height="1" fill="rgb(128,128,180)"/>
<rect x="348" y="513" width="1" height="1" fill="rgb(128,128,180)" opacity="0.3"/>
<rect x="349" y="516" width="6" height="1" fill="rgb(128,128,180)"/>
<rect x="348" y="516" width="1" height="1" fill="rgb(128,128,180)" opacity="0.3"/>
<rect x="350" y="499" width="4" height="1" fill="rgb(128,128,180)" opacity="0.85"/>
<text transform="translate(384.31,458) scale(0.9300,1)" fill="rgb(12,12,120)" stroke="rgb(12,12,120)" font-size="14">A</text>
<text transform="translate(384.31,473) scale(0.9300,1)" fill="rgb(12,12,120)" stroke="rgb(12,12,120)" font-size="14">A</text>
<rect x="385" y="483" width="6" height="1" fill="rgb(128,128,180)"/>
<rect x="384" y="483" width="1" height="1" fill="rgb(128,128,180)" opacity="0.3"/>
<rect x="385" y="486" width="6" height="1" fill="rgb(128,128,180)"/>
<rect x="384" y="486" width="1" height="1" fill="rgb(128,128,180)" opacity="0.3"/>
<rect x="385" y="513" width="6" height="1" fill="rgb(128,128,180)"/>
<rect x="384" y="513" width="1" height="1" fill="rgb(128,128,180)" opacity="0.3"/>
<rect x="385" y="516" width="6" height="1" fill="rgb(128,128,180)"/>
<rect x="384" y="516" width="1" height="1" fill="rgb(128,128,180)" opacity="0.3"/>
<rect x="386" y="499" width="4" height="1" fill="rgb(128,128,180)" opacity="0.85"/>
<text transform="translate(419.85,458) scale(0.9300,1)" fill="rgb(12,12,120)" stroke="rgb(12,12,120)" font-size="14">G</text>
<text transform="translate(419.85,473) scale(0.9300,1)" fill="rgb(12,12,120)" stroke="rgb(12,12,120)" font-size="14">G</text>
<rect x="421" y="483" width="6" height="1" fill="rgb(128,128,180)"/>
<rect x="420" y="483" width="1" height="1" fill="rgb(128,128,180)" opacity="0.3"/>
<rect x="421" y="486" width="6" height="1" fill="rgb(128,128,180)"/>
<rect x="420" y="486" width="1" height="1" fill="rgb(128,128,180)" opacity="0.3"/>
<rect x="421" y="513" width="6" height="1" fill="rgb(128,128,180)"/>
<rect x="420" y="513" width="1" height="1" fill="rgb(128,128,180)" opacity="0.3"/>
<rect x="421" y="516" width="6" height="1" fill="rgb(128,128,180)"/>
<rect x="420" y="516" width="1" height="1" fill="rgb(128,128,180)" opacity="0.3"/>
<rect x="422" y="499" width="4" height="1" fill="rgb(128,128,180)" opacity="0.85"/>
<text transform="translate(455.85,458) scale(0.9300,1)" fill="rgb(12,12,120)" stroke="rgb(12,12,120)" font-size="14">G</text>
<text transform="translate(455.85,473) scale(0.9300,1)" fill="rgb(12,12,120)" stroke="rgb(12,12,120)" font-size="14">G</text>
<rect x="457" y="483" width="6" height="1" fill="rgb(128,128,180)"/>
<rect x="456" y="483" width="1" height="1" fill="rgb(128,128,180)" opacity="0.3"/>
<rect x="457" y="486" width="6" height="1" fill="rgb(128,128,180)"/>
<rect x="456" y="486" width="1" height="1" fill="rgb(128,128,180)" opacity="0.3"/>
<rect x="457" y="513" width="6" height="1" fill="rgb(128,128,180)"/>
<rect x="456" y="513" width="1" height="1" fill="rgb(128,128,180)" opacity="0.3"/>
<rect x="457" y="516" width="6" height="1" fill="rgb(128,128,180)"/>
<rect x="456" y="516" width="1" height="1" fill="rgb(128,128,180)" opacity="0.3"/>
<rect x="458" y="499" width="4" height="1" fill="rgb(128,128,180)" opacity="0.85"/>
<text transform="translate(492.31,458) scale(0.9300,1)" fill="rgb(12,12,120)" stroke="rgb(12,12,120)" font-size="14">A</text>
<text transform="translate(492.31,473) scale(0.9300,1)" fill="rgb(12,12,120)" stroke="rgb(12,12,120)" font-size="14">A</text>
<rect x="493" y="483" width="6" height="1" fill="rgb(128,128,180)"/>
<rect x="492" y="483" width="1" height="1" fill="rgb(128,128,180)" opacity="0.3"/>
<rect x="493" y="486" width="6" height="1" fill="rgb(128,128,180)"/>
<rect x="492" y="486" width="1" height="1" fill="rgb(128,128,180)" opacity="0.3"/>
<rect x="493" y="513" width="6" height="1" fill="rgb(128,128,180)"/>
<rect x="492" y="513" width="1" height="1" fill="rgb(128,128,180)" opacity="0.3"/>
<rect x="493" y="516" width="6" height="1" fill="rgb(128,128,180)"/>
<rect x="492" y="516" width="1" height="1" fill="rgb(128,128,180)" opacity="0.3"/>
<rect x="494" y="499" width="4" height="1" fill="rgb(128,128,180)" opacity="0.85"/>
<text transform="translate(527.85,458) scale(0.9300,1)" fill="rgb(12,12,120)" stroke="rgb(12,12,120)" font-size="14">G</text>
<text transform="translate(527.85,473) scale(0.9300,1)" fill="rgb(12,12,120)" stroke="rgb(12,12,120)" font-size="14">G</text>
<rect x="529" y="483" width="6" height="1" fill="rgb(128,128,180)"/>
<rect x="528" y="483" width="1" height="1" fill="rgb(128,128,180)" opacity="0.3"/>
<rect x="529" y="486" width="6" height="1" fill="rgb(128,128,180)"/>
<rect x="528" y="486" width="1" height="1" fill="rgb(128,128,180)" opacity="0.3"/>
<rect x="529" y="513" width="6" height="1" fill="rgb(128,128,180)"/>
<rect x="528" y="513" width="1" height="1" fill="rgb(128,128,180)" opacity="0.3"/>
<rect x="529" y="516" width="6" height="1" fill="rgb(128,128,180)"/>
<rect x="528" y="516" width="1" height="1" fill="rgb(128,128,180)" opacity="0.3"/>
<rect x="530" y="499" width="4" height="1" fill="rgb(128,128,180)" opacity="0.85"/>
<text transform="translate(563.85,458) scale(0.9300,1)" fill="rgb(12,12,120)" stroke="rgb(12,12,120)" font-size="14">G</text>
<text transform="translate(563.85,473) scale(0.9300,1)" fill="rgb(12,12,120)" stroke="rgb(12,12,120)" font-size="14">G</text>
<rect x="565" y="483" width="6" height="1" fill="rgb(128,128,180)"/>
<rect x="564" y="483" width="1" height="1" fill="rgb(128,128,180)" opacity="0.3"/>
<rect x="565" y="486" width="6" height="1" fill="rgb(128,128,180)"/>
<rect x="564" y="486" width="1" height="1" fill="rgb(128,128,180)" opacity="0.3"/>
<rect x="565" y="513" width="6" height="1" fill="rgb(128,128,180)"/>
<rect x="564" y="513" width="1" height="1" fill="rgb(128,128,180)" opacity="0.3"/>
<rect x="565" y="516" width="6" height="1" fill="rgb(128,128,180)"/>
<rect x="564" y="516" width="1" height="1" fill="rgb(128,128,180)" opacity="0.3"/>
<rect x="566" y="499" width="4" height="1" fill="rgb(128,128,180)" opacity="0.85"/>
<text transform="translate(599.85,458) scale(0.9300,1)" fill="rgb(12,12,120)" stroke="rgb(12,12,120)" font-size="14">G</text>
<text transform="translate(599.85,473) scale(0.9300,1)" fill="rgb(12,12,120)" stroke="rgb(12,12,120)" font-size="14">G</text>
<rect x="601" y="483" width="6" height="1" fill="rgb(128,128,180)"/>
<rect x="600" y="483" width="1" height="1" fill="rgb(128,128,180)" opacity="0.3"/>
<rect x="601" y="486" width="6" height="1" fill="rgb(128,128,180)"/>
<rect x="600" y="486" width="1" height="1" fill="rgb(128,128,180)" opacity="0.3"/>
<rect x="601" y="513" width="6" height="1" fill="rgb(128,128,180)"/>
<rect x="600" y="513" width="1" height="1" fill="rgb(128,128,180)" opacity="0.3"/>
<rect x="601" y="516" width="6" height="1" fill="rgb(128,128,180)"/>
<rect x="600" y="516" width="1" height="1" fill="rgb(128,128,180)" opacity="0.3"/>
<rect x="602" y="499" width="4" height="1" fill="rgb(128,128,180)" opacity="0.85"/>
<text transform="translate(636.32,458) scale(0.9300,1)" fill="rgb(12,12,120)" stroke="rgb(12,12,120)" font-size="14">A</text>
<text transform="translate(636.32,473) scale(0.9300,1)" fill="rgb(12,12,120)" stroke="rgb(12,12,120)" font-size="14">A</text>
<rect x="637" y="483" width="6" height="1" fill="rgb(128,128,180)"/>
<rect x="636" y="483" width="1" height="1" fill="rgb(128,128,180)" opacity="0.3"/>
<rect x="637" y="486" width="6" height="1" fill="rgb(128,128,180)"/>
<rect x="636" y="486" width="1" height="1" fill="rgb(128,128,180)" opacity="0.3"/>
<rect x="637" y="513" width="6" height="1" fill="rgb(128,128,180)"/>
<rect x="636" y="513" width="1" height="1" fill="rgb(128,128,180)" opacity="0.3"/>
<rect x="637" y="516" width="6" height="1" fill="rgb(128,128,180)"/>
<rect x="636" y="516" width="1" height="1" fill="rgb(128,128,180)" opacity="0.3"/>
<rect x="638" y="499" width="4" height="1" fill="rgb(128,128,180)" opacity="0.85"/>
<text transform="translate(672.32,458) scale(0.9300,1)" fill="rgb(12,12,120)" stroke="rgb(12,12,120)" font-size="14">A</text>
<text transform="translate(672.32,473) scale(0.9300,1)" fill="rgb(12,12,120)" stroke="rgb(12,12,120)" font-size="14">A</text>
<rect x="673" y="483" width="6" height="1" fill="rgb(128,128,180)"/>
<rect x="672" y="483" width="1" height="1" fill="rgb(128,128,180)" opacity="0.3"/>
<rect x="673" y="486" width="6" height="1" fill="rgb(128,128,180)"/>
<rect x="672" y="486" width="1" height="1" fill="rgb(128,128,180)" opacity="0.3"/>
<rect x="673" y="513" width="6" height="1" fill="rgb(128,128,180)"/>
<rect x="672" y="513" width="1" height="1" fill="rgb(128,128,180)" opacity="0.3"/>
<rect x="673" y="516" width="6" height="1" fill="rgb(128,128,180)"/>
<rect x="672" y="516" width="1" height="1" fill="rgb(128,128,180)" opacity="0.3"/>
<rect x="674" y="499" width="4" height="1" fill="rgb(128,128,180)" opacity="0.85"/>
<text transform="translate(707.85,458) scale(0.9300,1)" fill="rgb(12,12,120)" stroke="rgb(12,12,120)" font-size="14">G</text>
<text transform="translate(707.85,473) scale(0.9300,1)" fill="rgb(12,12,120)" stroke="rgb(12,12,120)" font-size="14">G</text>
<rect x="709" y="483" width="6" height="1" fill="rgb(128,128,180)"/>
<rect x="708" y="483" width="1" height="1" fill="rgb(128,128,180)" opacity="0.3"/>
<rect x="709" y="486" width="6" height="1" fill="rgb(128,128,180)"/>
<rect x="708" y="486" width="1" height="1" fill="rgb(128,128,180)" opacity="0.3"/>
<rect x="709" y="513" width="6" height="1" fill="rgb(128,128,180)"/>
<rect x="708" y="513" width="1" height="1" fill="rgb(128,128,180)" opacity="0.3"/>
<rect x="709" y="516" width="6" height="1" fill="rgb(128,128,180)"/>
<rect x="708" y="516" width="1" height="1" fill="rgb(128,128,180)" opacity="0.3"/>
<rect x="710" y="499" width="4" height="1" fill="rgb(128,128,180)" opacity="0.85"/>
<text transform="translate(744.32,458) scale(0.9300,1)" fill="rgb(12,12,120)" stroke="rgb(12,12,120)" font-size="14">A</text>
<text transform="translate(744.32,473) scale(0.9300,1)" fill="rgb(12,12,120)" stroke="rgb(12,12,120)" font-size="14">A</text>
<rect x="745" y="483" width="6" height="1" fill="rgb(128,128,180)"/>
<rect x="744" y="483" width="1" height="1" fill="rgb(128,128,180)" opacity="0.3"/>
<rect x="745" y="486" width="6" height="1" fill="rgb(128,128,180)"/>
<rect x="744" y="486" width="1" height="1" fill="rgb(128,128,180)" opacity="0.3"/>
<rect x="745" y="513" width="6" height="1" fill="rgb(128,128,180)"/>
<rect x="744" y="513" width="1" height="1" fill="rgb(128,128,180)" opacity="0.3"/>
<rect x="745" y="516" width="6" height="1" fill="rgb(128,128,180)"/>
<rect x="744" y="516" width="1" height="1" fill="rgb(128,128,180)" opacity="0.3"/>
<rect x="746" y="499" width="4" height="1" fill="rgb(128,128,180)" opacity="0.85"/>
<text transform="translate(780.32,458) scale(0.9300,1)" fill="rgb(12,12,120)" stroke="rgb(12,12,120)" font-size="14">A</text>
<text transform="translate(780.32,473) scale(0.9300,1)" fill="rgb(12,12,120)" stroke="rgb(12,12,120)" font-size="14">A</text>
<rect x="781" y="483" width="6" height="1" fill="rgb(128,128,180)"/>
<rect x="780" y="483" width="1" height="1" fill="rgb(128,128,180)" opacity="0.3"/>
<rect x="781" y="486" width="6" height="1" fill="rgb(128,128,180)"/>
<rect x="780" y="486" width="1" height="1" fill="rgb(128,128,180)" opacity="0.3"/>
<rect x="781" y="513" width="6" height="1" fill="rgb(128,128,180)"/>
<rect x="780" y="513" width="1" height="1" fill="rgb(128,128,180)" opacity="0.3"/>
<rect x="781" y="516" width="6" height="1" fill="rgb(128,128,180)"/>
<rect x="780" y="516" width="1" height="1" fill="rgb(128,128,180)" opacity="0.3"/>
<rect x="782" y="499" width="4" height="1" fill="rgb(128,128,180)" opacity="0.85"/>
<text transform="translate(815.85,458) scale(0.9300,1)" fill="rgb(12,12,120)" stroke="rgb(12,12,120)" font-size="14">G</text>
<text transform="translate(815.85,473) scale(0.9300,1)" fill="rgb(12,12,120)" stroke="rgb(12,12,120)" font-size="14">G</text>
<rect x="817" y="483" width="6" height="1" fill="rgb(128,128,180)"/>
<rect x="816" y="483" width="1" height="1" fill="rgb(128,128,180)" opacity="0.3"/>
<rect x="817" y="486" width="6" height="1" fill="rgb(128,128,180)"/>
<rect x="816" y="486" width="1" height="1" fill="rgb(128,128,180)" opacity="0.3"/>
<rect x="817" y="513" width="6" height="1" fill="rgb(128,128,180)"/>
<rect x="816" y="513" width="1" height="1" fill="rgb(128,128,180)" opacity="0.3"/>
<rect x="817" y="516" width="6" height="1" fill="rgb(128,128,180)"/>
<rect x="816" y="516" width="1" height="1" fill="rgb(128,128,180)" opacity="0.3"/>
<rect x="818" y="499" width="4" height="1" fill="rgb(128,128,180)" opacity="0.85"/>
<text transform="translate(851.85,458) scale(0.9300,1)" fill="rgb(12,12,120)" stroke="rgb(12,12,120)" font-size="14">G</text>
<text transform="translate(851.85,473) scale(0.9300,1)" fill="rgb(12,12,120)" stroke="rgb(12,12,120)" font-size="14">G</text>
<rect x="853" y="483" width="6" height="1" fill="rgb(128,128,180)"/>
<rect x="852" y="483" width="1" height="1" fill="rgb(128,128,180)" opacity="0.3"/>
<rect x="853" y="486" width="6" height="1" fill="rgb(128,128,180)"/>
<rect x="852" y="486" width="1" height="1" fill="rgb(128,128,180)" opacity="0.3"/>
<rect x="853" y="513" width="6" height="1" fill="rgb(128,128,180)"/>
<rect x="852" y="513" width="1" height="1" fill="rgb(128,128,180)" opacity="0.3"/>
<rect x="853" y="516" width="6" height="1" fill="rgb(128,128,180)"/>
<rect x="852" y="516" width="1" height="1" fill="rgb(128,128,180)" opacity="0.3"/>
<rect x="854" y="499" width="4" height="1" fill="rgb(128,128,180)" opacity="0.85"/>
<text transform="translate(888.32,458) scale(0.9300,1)" fill="rgb(12,12,120)" stroke="rgb(12,12,120)" font-size="14">A</text>
<text transform="translate(888.32,473) scale(0.9300,1)" fill="rgb(12,12,120)" stroke="rgb(12,12,120)" font-size="14">A</text>
<rect x="889" y="483" width="6" height="1" fill="rgb(128,128,180)"/>
<rect x="888" y="483" width="1" height="1" fill="rgb(128,128,180)" opacity="0.3"/>
<rect x="889" y="486" width="6" height="1" fill="rgb(128,128,180)"/>
<rect x="888" y="486" width="1" height="1" fill="rgb(128,128,180)" opacity="0.3"/>
<rect x="889" y="513" width="6" height="1" fill="rgb(128,128,180)"/>
<rect x="888" y="513" width="1" height="1" fill="rgb(128,128,180)" opacity="0.3"/>
<rect x="889" y="516" width="6" height="1" fill="rgb(128,128,180)"/>
<rect x="888" y="516" width="1" height="1" fill="rgb(128,128,180)" opacity="0.3"/>
<rect x="890" y="499" width="4" height="1" fill="rgb(128,128,180)" opacity="0.85"/>
<text transform="translate(924.32,458) scale(0.9300,1)" fill="rgb(12,12,120)" stroke="rgb(12,12,120)" font-size="14">A</text>
<text transform="translate(924.32,473) scale(0.9300,1)" fill="rgb(12,12,120)" stroke="rgb(12,12,120)" font-size="14">A</text>
<rect x="926" y="483" width="6" height="1" fill="rgb(128,128,180)"/>
<rect x="925" y="483" width="1" height="1" fill="rgb(128,128,180)" opacity="0.3"/>
<rect x="926" y="486" width="6" height="1" fill="rgb(128,128,180)"/>
<rect x="925" y="486" width="1" height="1" fill="rgb(128,128,180)" opacity="0.3"/>
<rect x="926" y="513" width="6" height="1" fill="rgb(128,128,180)"/>
<rect x="925" y="513" width="1" height="1" fill="rgb(128,128,180)" opacity="0.3"/>
<rect x="926" y="516" width="6" height="1" fill="rgb(128,128,180)"/>
<rect x="925" y="516" width="1" height="1" fill="rgb(128,128,180)" opacity="0.3"/>
<rect x="927" y="499" width="4" height="1" fill="rgb(128,128,180)" opacity="0.85"/>
<rect x="696" y="460" width="1" height="14" fill="rgb(225,128,0)"/>
<text transform="translate(440.87,579) scale(0.9285,1)" fill="#000" stroke="#000" font-size="14">Repeating Elements by RepeatMasker</text>
<rect x="156" y="581" width="793" height="15" fill="#000"/>
</svg>
</body></html>
